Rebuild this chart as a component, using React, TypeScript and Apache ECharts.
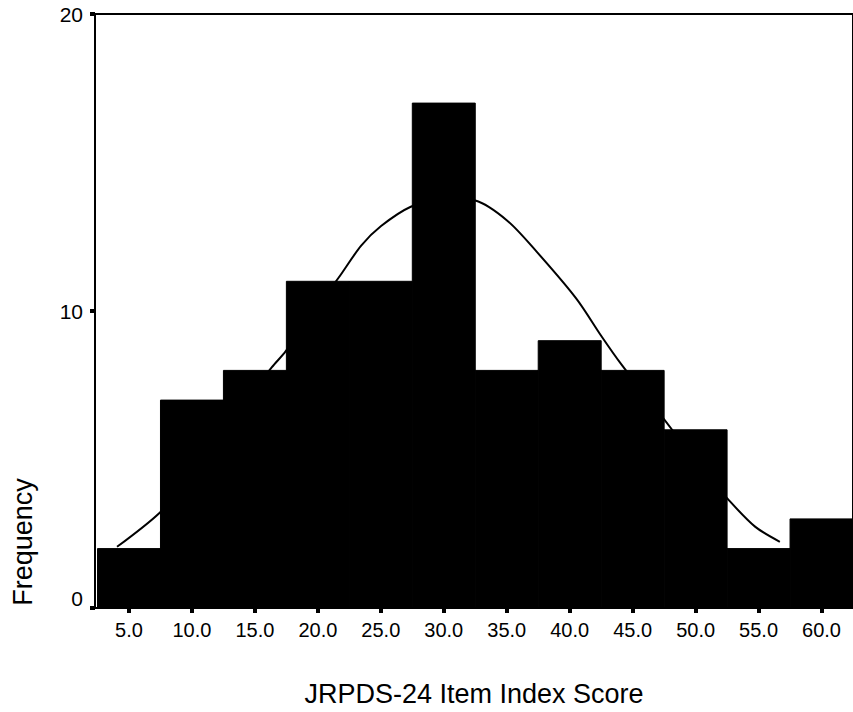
import React, { useEffect, useRef } from "react";
import * as echarts from "echarts";

// Histogram bins (centres) and frequencies
const binCenters = [5, 10, 15, 20, 25, 30, 35, 40, 45, 50, 55, 60];
const frequencies = [2, 7, 8, 11, 11, 17, 8, 9, 8, 6, 2, 3];
const binWidth = 5;

// Fitted normal curve
const curveX = [4.05, 7.44, 10, 12.5, 14.5, 16.35, 17.45, 19.5, 21.63, 23.44, 25.02, 27.38, 30, 32.5, 35.02, 37.39, 40.54, 42.51, 44.09, 46.5, 48.5, 50.5, 52.6, 54.72, 56.69];
const curveY = [2.06, 3.21, 4.45, 5.9, 7.1, 8.11, 8.65, 9.9, 11.11, 12.2, 12.86, 13.51, 13.8, 13.72, 13.05, 11.99, 10.41, 9.16, 8.21, 6.9, 5.8, 4.7, 3.65, 2.74, 2.23];

// Axis ticks
const xTickValues = [5, 10, 15, 20, 25, 30, 35, 40, 45, 50, 55, 60];
const yTickValues = [0, 10, 20];

const xTitle = "JRPDS-24 Item Index Score";
const yTitle = "Frequency";

const FONT = '"Liberation Sans", Arial, Helvetica, sans-serif';

export default function App() {
  const ref = useRef<HTMLDivElement>(null);

  useEffect(() => {
    document.body.style.margin = "0";
    if (!ref.current) return;
    const chart = echarts.init(ref.current, undefined, { renderer: "svg" });

    const barData = binCenters.map((c, i) => [c - binWidth / 2, c + binWidth / 2, frequencies[i]]);
    const curveData = curveX.map((x, i) => [x, curveY[i]]);

    chart.setOption({
      animation: false,
      backgroundColor: "#fff",
      textStyle: { fontFamily: FONT, color: "#000" },
      grid: {
        left: 95,
        top: 14,
        width: 764,
        height: 594,
        show: true,
        borderColor: "#000",
        borderWidth: 2,
        backgroundColor: "transparent",
      },
      xAxis: {
        type: "value",
        min: 2.3,
        max: 62.5,
        splitLine: { show: false },
        axisLine: { show: true, onZero: false, lineStyle: { color: "#000", width: 2 } },
        axisTick: {
          show: true,
          customValues: xTickValues,
          length: 5,
          lineStyle: { color: "#000", width: 4 },
        },
        axisLabel: {
          customValues: xTickValues,
          formatter: (v: number) => v.toFixed(1),
          fontSize: 20,
          fontFamily: FONT,
          color: "#000",
          margin: 12,
        },
        name: xTitle,
        nameLocation: "middle",
        nameGap: 72,
        nameTextStyle: { fontSize: 27, fontFamily: FONT, color: "#000" },
      },
      yAxis: {
        type: "value",
        min: 0,
        max: 20,
        splitLine: { show: false },
        axisLine: { show: true, lineStyle: { color: "#000", width: 2 } },
        axisTick: {
          show: true,
          customValues: yTickValues,
          length: 5,
          lineStyle: { color: "#000", width: 4 },
        },
        axisLabel: {
          customValues: yTickValues,
          formatter: (v: number) => (v === 0 ? "{z|0}" : String(v)),
          rich: { z: { fontSize: 21, fontFamily: FONT, color: "#000", padding: [0, 0, 20, 0] } },
          fontSize: 21,
          fontFamily: FONT,
          color: "#000",
          margin: 12,
        },
      },
      graphic: [
        {
          type: "text",
          x: 23,
          y: 542,
          rotation: Math.PI / 2,
          style: {
            text: yTitle,
            font: `27px ${FONT}`,
            fill: "#000",
            align: "center",
            verticalAlign: "middle",
          },
        },
      ],
      series: [
        {
          type: "custom",
          data: barData,
          encode: { x: [0, 1], y: 2 },
          renderItem: (params: any, api: any) => {
            const p0 = api.coord([api.value(0), 0]);
            const p1 = api.coord([api.value(1), api.value(2)]);
            return {
              type: "rect",
              shape: { x: p0[0], y: p1[1], width: p1[0] - p0[0], height: p0[1] - p1[1] },
              style: { fill: "#000", stroke: "#000", lineWidth: 1 },
            };
          },
          z: 2,
        },
        {
          type: "line",
          data: curveData,
          smooth: 0.3,
          showSymbol: false,
          symbol: "none",
          lineStyle: { color: "#000", width: 2 },
          z: 3,
        },
      ],
    });

    return () => chart.dispose();
  }, []);

  return (
    <div
      ref={ref}
      style={{ width: 853, height: 712, position: "absolute", left: 0, top: 0, background: "#fff" }}
    />
  );
}
